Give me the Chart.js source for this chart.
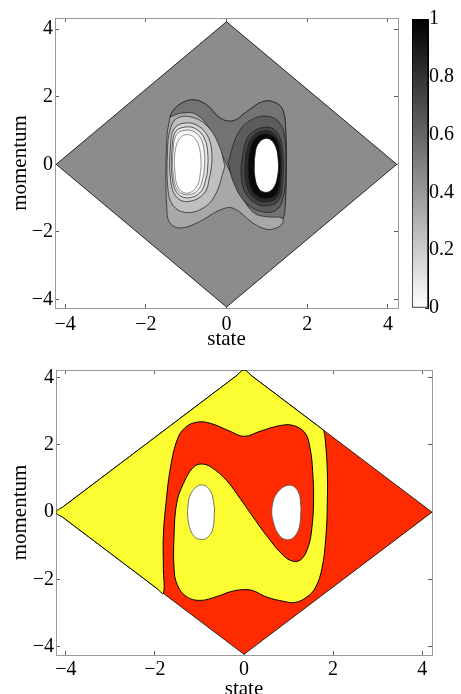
<!DOCTYPE html>
<html>
<head>
<meta charset="utf-8">
<style>
  html, body { margin: 0; padding: 0; background: #fff; overflow: hidden; }
  body { width: 461px; height: 694px; position: relative; }
  canvas { position: absolute; }
  #topChart { left: 0; top: 0; }
  #colorbar { left: 400px; top: 0; }
  #bottomChart { left: 0; top: 352px; }
</style>
</head>
<body>
<canvas id="topChart" width="461" height="352"></canvas>
<canvas id="colorbar" width="61" height="330"></canvas>
<canvas id="bottomChart" width="461" height="360"></canvas>

<script src="https://cdn.jsdelivr.net/npm/chart.js"></script>
<script>
// ---- data (state, momentum) ----
const tickValues = [-4, -2, 0, 2, 4];
const tickLabels = ['\u22124', '\u22122', '0', '2', '4'];
const colorbarTicks = [0, 0.2, 0.4, 0.6, 0.8, 1];
const colorbarLabels = ['0', '0.2', '0.4', '0.6', '0.8', '1'];

const domain = [[-4.22, 0], [0, 4.22], [4.22, 0], [0, -4.22], [-4.22, 0]];

// top panel: level sets
const upperEdge = [[-1.40, 1.40], [-1.32, 1.60], [-1.11, 1.81], [-0.82, 1.91], [-0.49, 1.76], [-0.16, 1.37],
  [0.17, 1.29], [0.50, 1.56], [0.91, 1.86], [1.24, 1.81], [1.41, 1.56], [1.47, 0.89], [1.48, -0.05],
  [1.46, -1.06], [1.41, -1.58]];
const lowerEdge = [[1.38, -1.76], [1.22, -1.89], [0.99, -1.92], [0.66, -1.74], [0.17, -1.30], [-0.16, -1.35],
  [-0.66, -1.69], [-1.11, -1.88], [-1.40, -1.74], [-1.48, -1.25], [-1.50, -0.09], [-1.47, 0.89],
  [-1.42, 1.27], [-1.40, 1.40]];
const upperInner = [[1.28, -1.56], [1.00, -1.55], [0.70, -1.45], [0.42, -1.05], [0.18, -0.45], [0.0, 0.0],
  [-0.18, 0.45], [-0.42, 1.05], [-0.75, 1.48], [-1.10, 1.52], [-1.32, 1.44], [-1.40, 1.40]];

const rightRing1 = [[0.04, 0.06], [0.29, 0.93], [0.62, 1.32], [1.03, 1.42], [1.32, 1.22], [1.45, 0.74], [1.46, -0.43],
  [1.40, -1.01], [1.24, -1.35], [0.87, -1.40], [0.46, -1.11], [0.17, -0.52], [0.04, 0.06]];
const rightRing2 = [[0.40, 0.30], [0.55, 0.85], [0.95, 1.10], [1.25, 0.95], [1.39, 0.40], [1.39, -0.50],
  [1.30, -1.05], [1.05, -1.22], [0.72, -1.15], [0.45, -0.80], [0.36, -0.25], [0.40, 0.30]];
const rightRing3 = [[0.48, 0.30], [0.63, 0.80], [0.95, 0.99], [1.22, 0.85], [1.35, 0.35], [1.35, -0.45],
  [1.27, -0.95], [1.05, -1.10], [0.76, -1.05], [0.54, -0.75], [0.46, -0.25], [0.48, 0.30]];
const rightRing4 = [[0.56, 0.30], [0.69, 0.74], [0.95, 0.90], [1.20, 0.78], [1.32, 0.30], [1.32, -0.45],
  [1.24, -0.88], [1.02, -1.01], [0.78, -0.95], [0.61, -0.70], [0.54, -0.22], [0.56, 0.30]];
const rightWell = [[0.69, 0.15], [0.77, 0.58], [0.98, 0.77], [1.18, 0.62], [1.28, 0.15], [1.26, -0.40],
  [1.15, -0.72], [0.98, -0.83], [0.80, -0.72], [0.70, -0.35], [0.69, 0.15]];

const leftRing1 = [[-0.04, -0.06], [-0.29, -0.93], [-0.62, -1.32], [-1.03, -1.42], [-1.32, -1.22], [-1.45, -0.74],
  [-1.46, 0.43], [-1.40, 1.01], [-1.24, 1.35], [-0.87, 1.40], [-0.46, 1.11], [-0.17, 0.52], [-0.04, -0.06]];
const leftRing2 = [[-0.40, -0.30], [-0.55, -0.85], [-0.95, -1.10], [-1.25, -0.95], [-1.39, -0.40], [-1.39, 0.50],
  [-1.30, 1.05], [-1.05, 1.22], [-0.72, 1.15], [-0.45, 0.80], [-0.36, 0.25], [-0.40, -0.30]];
const leftRing3 = [[-0.48, -0.30], [-0.63, -0.80], [-0.95, -0.99], [-1.22, -0.85], [-1.35, -0.35], [-1.35, 0.45],
  [-1.27, 0.95], [-1.05, 1.10], [-0.76, 1.05], [-0.54, 0.75], [-0.46, 0.25], [-0.48, -0.30]];
const leftRing4 = [[-0.56, -0.30], [-0.69, -0.74], [-0.95, -0.90], [-1.20, -0.78], [-1.32, -0.30], [-1.32, 0.45],
  [-1.24, 0.88], [-1.02, 1.01], [-0.78, 0.95], [-0.61, 0.70], [-0.54, 0.22], [-0.56, -0.30]];
const leftWell = [[-0.63, -0.10], [-0.72, -0.62], [-0.95, -0.85], [-1.18, -0.72], [-1.28, -0.20], [-1.27, 0.40],
  [-1.15, 0.78], [-0.95, 0.88], [-0.75, 0.72], [-0.65, 0.35], [-0.63, -0.10]];

// bottom panel: basin boundary, from the upper right edge to the lower left edge
const basinBoundary = [[1.79, 2.43], [1.82, 2.21], [1.87, 1.24], [1.87, 0.27], [1.84, -0.70], [1.75, -1.67],
  [1.60, -2.25], [1.41, -2.52], [1.15, -2.68], [0.90, -2.65], [0.51, -2.52], [0.20, -2.33], [-0.02, -2.30],
  [-0.30, -2.36], [-0.60, -2.50], [-0.99, -2.62], [-1.30, -2.50], [-1.50, -2.15], [-1.57, -1.67],
  [-1.57, -0.70], [-1.51, 0.27], [-1.36, 0.85], [-1.14, 1.33], [-0.95, 1.43], [-0.73, 1.33], [-0.39, 0.94],
  [-0.09, 0.41], [0.17, -0.08], [0.51, -0.70], [0.88, -1.28], [1.11, -1.46], [1.30, -1.38], [1.45, -0.99],
  [1.52, -0.51], [1.56, 0.27], [1.54, 1.24], [1.48, 1.92], [1.37, 2.35], [1.11, 2.57], [0.81, 2.57],
  [0.36, 2.40], [0.0, 2.25], [-0.31, 2.40], [-0.76, 2.64], [-1.06, 2.67], [-1.33, 2.50], [-1.51, 2.11],
  [-1.66, 1.24], [-1.75, 0.27], [-1.81, -0.70], [-1.81, -1.67], [-1.81, -2.41]];
const yellowEdge = [[-1.95, -2.27], [-4.05, -0.17], [-4.22, 0], [-4.05, 0.17], [-0.17, 4.05], [0, 4.22],
  [0.17, 4.05], [1.65, 2.57], [1.79, 2.43]];
const leftHole = [[-0.66, 0.10], [-0.70, -0.50], [-0.82, -0.75], [-0.96, -0.81], [-1.12, -0.72], [-1.24, -0.35],
  [-1.26, 0.15], [-1.18, 0.58], [-0.96, 0.81], [-0.75, 0.62], [-0.66, 0.10]];
const rightHole = [[1.28, 0.10], [1.24, -0.45], [1.12, -0.74], [0.97, -0.82], [0.80, -0.70], [0.66, -0.30],
  [0.63, 0.15], [0.76, 0.60], [1.03, 0.80], [1.22, 0.60], [1.28, 0.10]];

// ---- helpers ----
const FONT = "'Liberation Serif', 'Times New Roman', serif";
const LINE = '#1a1a1a';

function layer(points, fill, stroke, width, tension) {
    return {
        data: points.map(p => ({ x: p[0], y: p[1] })),
        showLine: true,
        fill: fill ? 'shape' : false,
        backgroundColor: fill || 'transparent',
        borderColor: stroke,
        borderWidth: width,
        tension: tension,
        pointRadius: 0,
        pointHoverRadius: 0
    };
}

// first layer is painted first
function stack(layers) {
    return layers.map((d, i) => Object.assign(d, { order: layers.length - i }));
}

function axis(pos, min, max, size, opts) {
    const vertical = pos === 'left' || pos === 'right';
    const cfg = {
        type: 'linear', position: pos, min: min, max: max, z: 1,
        afterBuildTicks: s => { s.ticks = tickValues.map(v => ({ value: v })); },
        afterFit: s => { if (vertical) s.width = size; else s.height = size; },
        grid: { drawOnChartArea: false, drawTicks: true, tickLength: -4, color: '#333', lineWidth: 0.8 },
        border: { display: true, color: '#9a9a9a', width: 1 },
        ticks: {
            display: !!opts.labels, autoSkip: false, maxRotation: 0, padding: opts.pad || 0,
            color: '#000', font: { family: FONT, size: 20 },
            callback: (v, i) => tickLabels[i]
        },
        title: { display: false }
    };
    if (opts.title) {
        cfg.title = { display: true, text: opts.title, color: '#000', font: { family: FONT, size: 21 }, padding: opts.titlePad };
    }
    return cfg;
}

function panel(id, datasets, r, box, pads) {
    return new Chart(document.getElementById(id), {
        type: 'scatter',
        data: { datasets: datasets },
        options: {
            responsive: false, animation: false, events: [],
            layout: { padding: 0 },
            plugins: { legend: { display: false }, tooltip: { enabled: false } },
            scales: {
                x: axis('bottom', r[0], r[1], box.bottom, { labels: true, pad: pads.x, title: 'state', titlePad: { top: 0, bottom: pads.xt } }),
                x2: axis('top', r[0], r[1], box.top, {}),
                y: axis('left', r[2], r[3], box.left, { labels: true, pad: 6, title: 'momentum', titlePad: { top: 8, bottom: 0 } }),
                y2: axis('right', r[2], r[3], box.right, {})
            }
        }
    });
}

// ---- top panel ----
panel('topChart', stack([
    layer(domain, '#8c8c8c', '#000', 0.8, 0),
    layer(upperEdge.concat(lowerEdge), '#a8a8a8', LINE, 0.7, 0.4),
    layer(upperEdge.concat(upperInner), '#737373', LINE, 0.7, 0.4),
    layer(rightRing1, '#5c5c5c', LINE, 0.7, 0.4),
    layer(rightRing2, '#454545', LINE, 0.7, 0.4),
    layer(rightRing3, '#2b2b2b', LINE, 0.7, 0.4),
    layer(rightRing4, '#0a0a0a', LINE, 0.7, 0.4),
    layer(leftRing1, '#bfbfbf', LINE, 0.7, 0.4),
    layer(leftRing2, '#d4d4d4', LINE, 0.7, 0.4),
    layer(leftRing3, '#e8e8e8', LINE, 0.7, 0.4),
    layer(leftRing4, '#f6f6f6', '#555', 0.7, 0.4),
    layer(rightWell, '#ffffff', '#000', 0.7, 0.4),
    layer(leftWell, '#ffffff', '#666', 0.7, 0.4)
]), [-4.25, 4.25, -4.25, 4.33], { left: 55, right: 63, top: 16, bottom: 44 }, { x: 9, xt: 0 });

// ---- colorbar ----
new Chart(document.getElementById('colorbar'), {
    type: 'bar',
    data: {
        labels: [''],
        datasets: [{
            data: [1],
            backgroundColor: c => {
                const area = c.chart.chartArea;
                if (!area) return '#888';
                const g = c.chart.ctx.createLinearGradient(0, area.bottom, 0, area.top);
                g.addColorStop(0, '#ffffff');
                g.addColorStop(1, '#000000');
                return g;
            },
            borderColor: '#000', borderWidth: 1, borderSkipped: false,
            barPercentage: 1, categoryPercentage: 1
        }]
    },
    options: {
        responsive: false, animation: false, events: [],
        layout: { padding: { left: 12, top: 19, bottom: 22, right: 0 } },
        plugins: { legend: { display: false }, tooltip: { enabled: false } },
        scales: {
            x: { display: false },
            y: {
                position: 'right', min: 0, max: 1, z: 1,
                afterBuildTicks: s => { s.ticks = colorbarTicks.map(v => ({ value: v })); },
                afterFit: s => { s.width = 33; },
                grid: { drawOnChartArea: false, tickLength: -3, color: '#333' },
                border: { display: true, color: '#000' },
                ticks: { padding: 4, color: '#000', font: { family: FONT, size: 20 }, callback: (v, i) => colorbarLabels[i] }
            }
        }
    }
});

// ---- bottom panel ----
panel('bottomChart', stack([
    layer(domain, '#ff2b00', '#000', 0.8, 0),
    layer(basinBoundary.concat(yellowEdge), '#fcfc32', '#000', 1, 0.4),
    layer(leftHole, '#ffffff', '#555', 0.8, 0.4),
    layer(rightHole, '#ffffff', '#555', 0.8, 0.4)
]), [-4.22, 4.22, -4.24, 4.22], { left: 56, right: 29, top: 12, bottom: 57 }, { x: 7, xt: 10 });
</script>
</body>
</html>
